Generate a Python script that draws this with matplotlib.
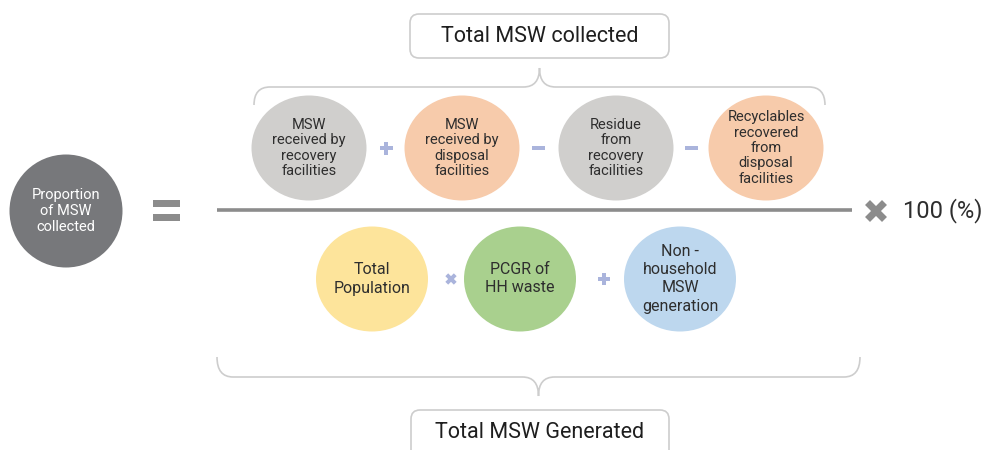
import matplotlib.pyplot as plt
from matplotlib.patches import Ellipse, FancyBboxPatch, Rectangle, PathPatch
from matplotlib.path import Path
from matplotlib.transforms import Affine2D

plt.rcParams["font.family"] = ["Roboto", "DejaVu Sans"]

# diagram content
result_label = "Proportion\nof MSW\ncollected"
numerator_terms = [
    "MSW\nreceived by\nrecovery\nfacilities",
    "MSW\nreceived by\ndisposal\nfacilities",
    "Residue\nfrom\nrecovery\nfacilities",
    "Recyclables\nrecovered\nfrom\ndisposal\nfacilities",
]
numerator_colors = ["#d0cfcd", "#f7cbab", "#d0cfcd", "#f7cbab"]
numerator_ops = ["+", "-", "-"]
denominator_terms = ["Total\nPopulation", "PCGR of\nHH waste", "Non -\nhousehold\nMSW\ngeneration"]
denominator_colors = ["#fde49b", "#a9d08e", "#bdd7ee"]
denominator_ops = ["x", "+"]
top_title = "Total MSW collected"
bottom_title = "Total MSW Generated"
multiplier = "100 (%)"

# layout (pixel coordinates)
num_x = [309, 462, 616, 766]
num_op_x = [386, 538, 691]
num_y = 148
den_x = [372, 520, 680]
den_op_x = [451, 604]
den_y = 279
OP_COLOR = "#aab4dc"
LINE_GRAY = "#8c8c8c"
BRACE_GRAY = "#cdcdcd"
TEXT = "#2e2e2e"


def draw_op(ax, kind, x, y, size=13, thick=4, color=OP_COLOR):
    if kind == "-":
        ax.add_patch(Rectangle((x - size / 2, y - thick / 2), size, thick, color=color, lw=0))
        return
    rot = 45 if kind == "x" else 0
    tr = Affine2D().rotate_deg_around(x, y, rot) + ax.transData
    ax.add_patch(Rectangle((x - size / 2, y - thick / 2), size, thick, color=color, lw=0, transform=tr))
    ax.add_patch(Rectangle((x - thick / 2, y - size / 2), thick, size, color=color, lw=0, transform=tr))


def brace(ax, x0, x1, y_line, y_end, y_tip, r=16):
    xm = (x0 + x1) / 2
    verts = [
        (x0, y_end), (x0, y_line), (x0 + r, y_line),
        (xm - r, y_line), (xm, y_line), (xm, y_tip),
        (xm, y_line), (xm + r, y_line),
        (x1 - r, y_line), (x1, y_line), (x1, y_end),
    ]
    codes = [Path.MOVETO, Path.CURVE3, Path.CURVE3,
             Path.LINETO, Path.CURVE3, Path.CURVE3,
             Path.CURVE3, Path.CURVE3,
             Path.LINETO, Path.CURVE3, Path.CURVE3]
    ax.add_patch(PathPatch(Path(verts, codes), fill=False, ec=BRACE_GRAY, lw=1.2))


fig = plt.figure(figsize=(9.84, 4.5), dpi=100)
ax = fig.add_axes([0, 0, 1, 1])
ax.set_xlim(0, 984)
ax.set_ylim(450, 0)
ax.axis("off")

# left-hand side
ax.add_patch(Ellipse((66, 211), 113, 113, color="#77787b", lw=0))
ax.text(66, 211, result_label, ha="center", va="center", color="white",
        fontsize=10.5, linespacing=1.15)

# equals sign
for yy in (200, 214):
    ax.add_patch(Rectangle((153, yy), 27, 7, color=LINE_GRAY, lw=0))

# fraction line
ax.plot([217, 852], [210, 210], color=LINE_GRAY, lw=2.6, solid_capstyle="butt")

# numerator
for x, label, c in zip(num_x, numerator_terms, numerator_colors):
    ax.add_patch(Ellipse((x, num_y), 115, 105, color=c, lw=0))
    ax.text(x, num_y, label, ha="center", va="center", color=TEXT,
            fontsize=10.5, linespacing=1.13)
for x, op in zip(num_op_x, numerator_ops):
    draw_op(ax, op, x, num_y)

# denominator
for x, label, c in zip(den_x, denominator_terms, denominator_colors):
    ax.add_patch(Ellipse((x, den_y), 112, 105, color=c, lw=0))
    ax.text(x, den_y, label, ha="center", va="center", color=TEXT,
            fontsize=11.5, linespacing=1.25)
for x, op in zip(den_op_x, denominator_ops):
    draw_op(ax, op, x, den_y, size=12, thick=4)

# times 100 %
draw_op(ax, "x", 876, 211, size=24, thick=7, color=LINE_GRAY)
ax.text(903, 211, multiplier, ha="left", va="center", color=TEXT, fontsize=17)

# braces
brace(ax, 254, 825, 87, 105, 68)
brace(ax, 217, 860, 377, 357, 396)

# title boxes
ax.add_patch(FancyBboxPatch((410, 14), 259, 44, boxstyle="round,pad=0,rounding_size=9",
                            fc="white", ec=BRACE_GRAY, lw=1.2))
ax.text(539.5, 37, top_title, ha="center", va="center", color="#1e1e1e", fontsize=15.5)
ax.add_patch(FancyBboxPatch((411, 410), 258, 60, boxstyle="round,pad=0,rounding_size=9",
                            fc="white", ec=BRACE_GRAY, lw=1.2))
ax.text(540, 433, bottom_title, ha="center", va="center", color="#1e1e1e", fontsize=15.5)

fig.savefig("out.png", dpi=100)
